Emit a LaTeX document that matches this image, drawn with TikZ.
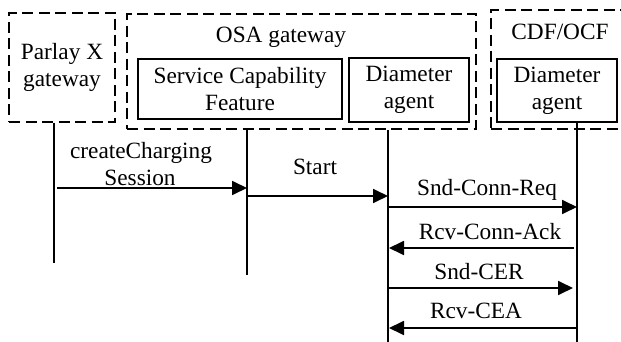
\documentclass[tikz,border=0pt]{standalone}
\usepackage{fontspec}
\setmainfont{Liberation Serif}
\usetikzlibrary{arrows.meta}
\begin{document}
\begin{tikzpicture}[x=1pt, y=-1pt,
  font=\fontsize{23.3}{27}\selectfont,
  group/.style={draw, dash pattern=on 11pt off 5.5pt, line width=1.5pt,
    inner sep=0pt, align=center},
  unit/.style={draw, line width=1.8pt, inner sep=0pt, align=center},
  lifeline/.style={line width=1.8pt},
  msg/.style={line width=1.8pt, -{Triangle[length=15pt, width=14pt]}},
  lbl/.style={anchor=base, inner sep=0pt}]
\useasboundingbox (0,0) rectangle (621,342);
\clip (0,0) rectangle (621,342);

% participants
\node[group, minimum width=106pt, minimum height=109pt] (parlay) at (62,67.5)
  {Parlay X\\gateway};
\node[group, minimum width=349pt, minimum height=115pt] (osa) at (301.5,71.5) {};
\node[lbl] (osalbl) at (281,43) {OSA gateway};
\node[unit, minimum width=204pt, minimum height=60pt] (scf) at (240,89)
  {Service Capability\\Feature};
\node[unit, minimum width=120pt, minimum height=64pt] (dia) at (409,90)
  {Diameter\\agent};
\node[group, minimum width=159pt, minimum height=119pt] (cdf) at (570.5,69.5) {};
\node[lbl] (cdflbl) at (560,40) {CDF/OCF};
\node[unit, minimum width=120pt, minimum height=63pt] (cdia) at (557,90.5)
  {Diameter\\agent};

% lifeline ends
\coordinate (pl) at (54,263);
\coordinate (sl) at (247,275);
\coordinate (dl) at (388,342);
\coordinate (cl) at (577,342);
\draw[lifeline] (parlay.south -| pl) -- (pl);
\draw[lifeline] (osa.south -| sl) -- (sl);
\draw[lifeline] (osa.south -| dl) -- (dl);
\draw[lifeline] (cdia.south -| cl) -- (cl);

% message ends
\coordinate (m1a) at (57,188);  \coordinate (m1b) at (247,188);
\coordinate (m2a) at (247,196); \coordinate (m2b) at (388,196);
\coordinate (m3a) at (388,207); \coordinate (m3b) at (577,207);
\coordinate (m4a) at (574,248); \coordinate (m4b) at (389,248);
\coordinate (m5a) at (388,288); \coordinate (m5b) at (573,288);
\coordinate (m6a) at (577,328); \coordinate (m6b) at (389,328);

\draw[msg] (m1a) -- (m1b);
\draw[msg] (m2a) -- (m2b);
\draw[msg] (m3a) -- (m3b);
\draw[msg] (m4a) -- (m4b);
\draw[msg] (m5a) -- (m5b);
\draw[msg] (m6a) -- (m6b);

% message labels
\node[lbl] (t1a) at (141,158) {createCharging};
\node[lbl] (t1b) at (140,185) {Session};
\node[lbl] (t2) at (315,175) {Start};
\node[lbl] (t3) at (487,195) {Snd-Conn-Req};
\node[lbl] (t4) at (490,239) {Rcv-Conn-Ack};
\node[lbl] (t5) at (479,279) {Snd-CER};
\node[lbl] (t6) at (476,318) {Rcv-CEA};
\end{tikzpicture}
\end{document}
